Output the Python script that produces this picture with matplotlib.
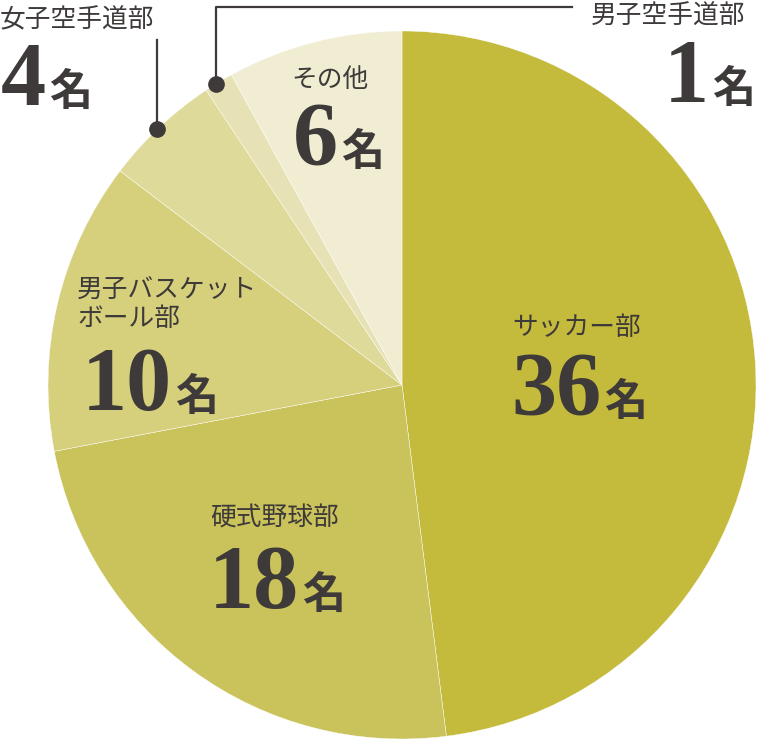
import matplotlib
matplotlib.use("Agg")
import matplotlib.pyplot as plt

categories = ["サッカー部", "硬式野球部", "男子バスケット\nボール部", "女子空手道部", "男子空手道部", "その他"]
values = [36, 18, 10, 4, 1, 6]
colors = ["#C4BA3C", "#CAC25A", "#D6D07D", "#DEDA9A", "#E6E2B5", "#F1EDD3"]

W, H = 757, 740
fig = plt.figure(figsize=(W / 100, H / 100), dpi=100)
ax = fig.add_axes([0, 0, 1, 1])

def Y(py):
    return H - py

cx, cy, R = 402, 385, 354
ax.pie(values, colors=colors, startangle=90, counterclock=False,
       center=(cx, Y(cy)), radius=R, frame=True,
       wedgeprops=dict(edgecolor="white", linewidth=0.3))
ax.set_xlim(0, W)
ax.set_ylim(0, H)
ax.set_aspect("equal")
ax.axis("off")

tc = "#3E3A39"
jp = ["Noto Sans CJK JP", "DejaVu Sans"]
num_font = ["Liberation Serif", "DejaVu Serif"]
lab_fs = 18.5
num_fs = 65
mei_fs = 31

def label(text, x, y, ha="center"):
    ax.text(x, Y(y), text, ha=ha, va="center", fontsize=lab_fs, color=tc,
            family=jp, linespacing=1.15)

def number(n, x_left, baseline):
    t = ax.text(x_left, Y(baseline), str(n), ha="left", va="baseline",
                fontsize=num_fs, color=tc, family=num_font, fontweight="bold")
    fig.canvas.draw()
    bb = t.get_window_extent()
    ax.text(bb.x1 + 3, Y(baseline), "名", ha="left", va="baseline",
            fontsize=mei_fs, color=tc, family=jp, fontweight="bold")

label(categories[0], 577, 328)
number(values[0], 511, 415)
label(categories[1], 275, 519)
number(values[1], 209, 608)
label(categories[2], 77, 304, ha="left")
number(values[2], 82, 410)
label(categories[5], 330, 80)
number(values[5], 293, 165)
label(categories[3], 0, 20, ha="left")
number(values[3], 1, 105)
label(categories[4], 745, 17, ha="right")
number(values[4], 664, 102)

# leader lines
ax.plot([157, 157], [Y(40), Y(129)], color=tc, lw=1.6)
ax.plot([157], [Y(129)], "o", color=tc, ms=11)
ax.plot([216, 216, 572], [Y(84), Y(7), Y(7)], color=tc, lw=1.6)
ax.plot([216], [Y(84)], "o", color=tc, ms=11)

fig.savefig("out.png", dpi=100, facecolor="white")
